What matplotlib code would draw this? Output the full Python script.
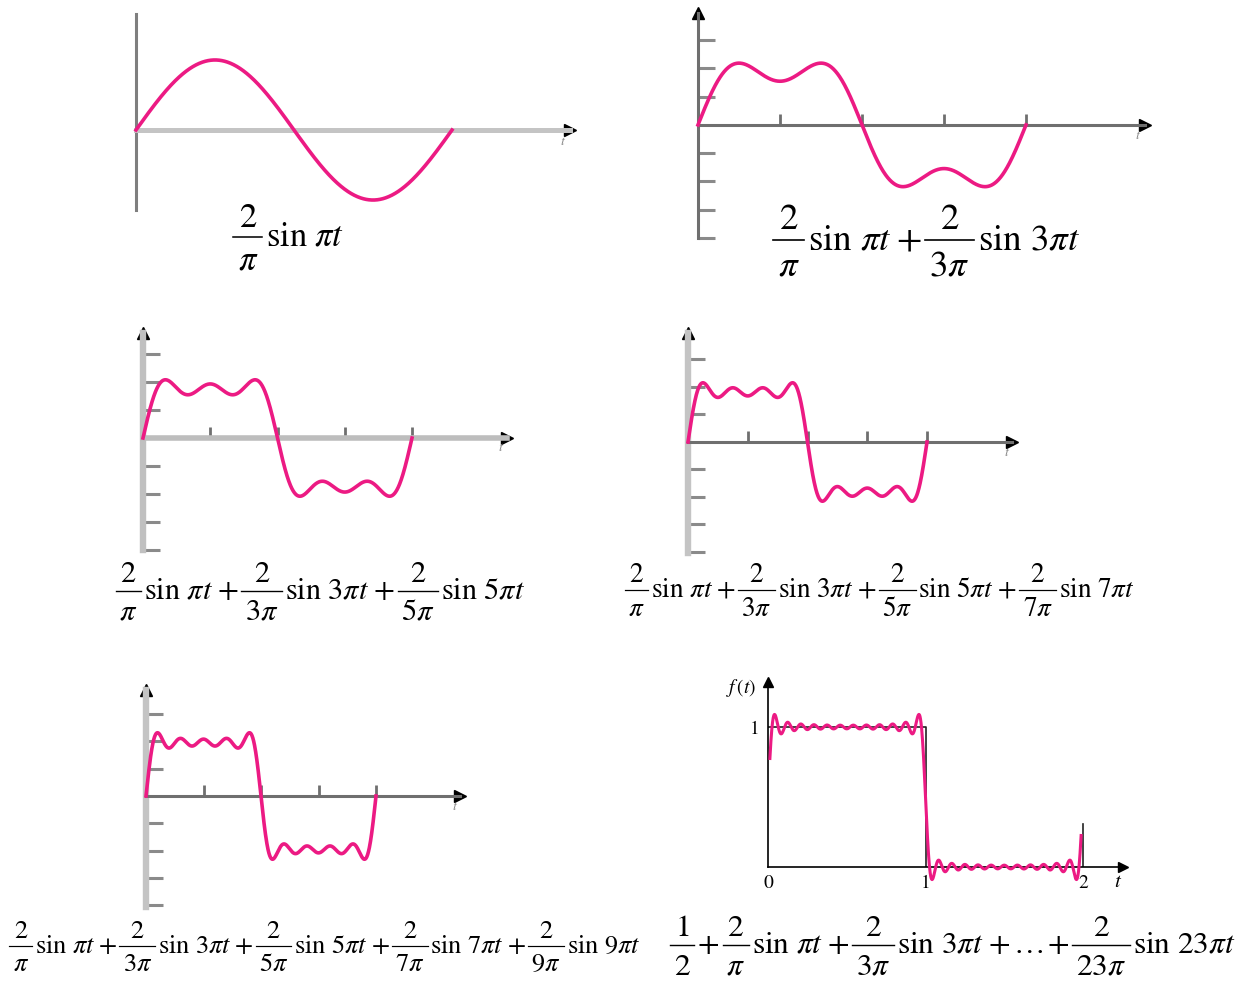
import numpy as np
import matplotlib.pyplot as plt
from matplotlib.font_manager import FontProperties
from matplotlib.lines import Line2D

plt.rcParams['mathtext.fontset'] = 'stix'
plt.rcParams['font.family'] = ['STIXGeneral', 'DejaVu Serif']

W, H = 1248, 983

# odd harmonics used in each partial sum (amplitude 2/(n*pi))
harmonics_1 = [1]
harmonics_2 = [1, 3]
harmonics_3 = [1, 3, 5]
harmonics_4 = [1, 3, 5, 7]
harmonics_5 = [1, 3, 5, 7, 9]
harmonics_6 = [1, 3, 5, 7, 9, 11, 13, 15, 17, 19, 21, 23]
dc_offsets = [0, 0, 0, 0, 0, 0.5]

# square wave f(t) drawn in the last panel
square_t = [0, 1, 1]
square_f = [1, 1, 0]
edge_t = [2, 2]
edge_f = [0, 0.31]

axis_ticks_t = [0.5, 1.0, 1.5, 2.0]
f_ticks = [0, 1, 2]

PINK = '#ec1a83'


def partial_sum(t, harmonics, offset):
    y = np.full_like(t, offset)
    for n in harmonics:
        y += 2 / (n * np.pi) * np.sin(n * np.pi * t)
    return y


def term(n):
    k = '' if n == 1 else str(n)
    return [('$2$', r'$%s\pi$' % k), r'$\mathrm{sin}\ %s\pi t$' % k]


def make_ax(fig, x0, y0, top, bottom, right, sx, sy):
    ax = fig.add_axes([x0 / W, 1 - bottom / H, (right - x0) / W, (bottom - top) / H])
    ax.set_xlim(0, (right - x0) / sx)
    ax.set_ylim((y0 - bottom) / sy, (y0 - top) / sy)
    ax.patch.set_visible(False)
    ax.spines['top'].set_visible(False)
    ax.spines['right'].set_visible(False)
    ax.spines['bottom'].set_position(('data', 0))
    return ax


def style_axes(ax, xcol, xlw, ycol, ylw):
    ax.spines['bottom'].set_color(xcol)
    ax.spines['bottom'].set_linewidth(xlw)
    ax.spines['left'].set_color(ycol)
    ax.spines['left'].set_linewidth(ylw)
    ax.plot(1, 0, '>', color='k', ms=8, transform=ax.get_yaxis_transform(), clip_on=False)
    ax.text(0.985, -0.1, '$t$', transform=ax.get_yaxis_transform(), fontsize=10,
            color='#8a8a8a', ha='center', va='center')


fig = plt.figure(figsize=(W / 100, H / 100), dpi=100)
renderer = fig.canvas.get_renderer()

# panel geometry in pixels: x0, y0, top, bottom, right, px per unit t, px per unit y, tick step px
panels = [
    (136, 130, 14, 210, 570, 158, 110, None),
    (698, 125, 13, 238, 1145, 164, 103, 28.3),
    (143, 438, 333, 550, 507, 134.5, 98, 28.0),
    (688, 442, 333, 553, 1012, 119.5, 100, 27.5),
    (146, 796, 690, 907, 460, 115, 107, 27.3),
]
harm_list = [harmonics_1, harmonics_2, harmonics_3, harmonics_4, harmonics_5]
axis_styles = [
    ('#c4c4c4', 3.6, '#7f7f7f', 2.2),
    ('#6f6f6f', 2.2, '#6f6f6f', 2.2),
    ('#bdbdbd', 4.0, '#c0c0c0', 4.6),
    ('#6f6f6f', 2.2, '#c4c4c4', 4.6),
    ('#6f6f6f', 2.2, '#c4c4c4', 4.6),
]

t = np.linspace(0, 2, 800)
for i, (x0, y0, top, bottom, right, sx, sy, step) in enumerate(panels):
    ax = make_ax(fig, x0, y0, top, bottom, right, sx, sy)
    style_axes(ax, *axis_styles[i])
    ax.plot(t, partial_sum(t, harm_list[i], dc_offsets[i]), color=PINK, lw=2.6,
            clip_on=False, zorder=5)
    if step is None:
        ax.set_xticks([])
        ax.set_yticks([])
    else:
        ax.plot(0, 1, '^', color='k', ms=8, transform=ax.get_xaxis_transform(), clip_on=False)
        ax.set_xticks(axis_ticks_t)
        ax.set_yticks([k * step / sy for k in range(-4, 4) if k != 0])
        ax.tick_params(axis='x', direction='in', length=8, width=2, color='#6f6f6f',
                       labelbottom=False)
        ax.tick_params(axis='y', direction='in', length=12, width=2.2, color='#8a8a8a',
                       labelleft=False)

# last panel: square wave with 12-term approximation
ax = make_ax(fig, 768, 867, 682, 867, 1123, 157.5, 140)
for s in ['bottom', 'left']:
    ax.spines[s].set_color('k')
    ax.spines[s].set_linewidth(1.2)
ax.plot(1, 0, '>', color='k', ms=7, transform=ax.get_yaxis_transform(), clip_on=False)
ax.plot(0, 1, '^', color='k', ms=7, transform=ax.get_xaxis_transform(), clip_on=False)
ax.plot(square_t, square_f, color='#222222', lw=1.2)
ax.plot(edge_t, edge_f, color='#222222', lw=1.2)
t6 = np.linspace(0.012, 1.988, 1500)
ax.plot(t6, partial_sum(t6, harmonics_6, dc_offsets[5]), color=PINK, lw=2.2,
        clip_on=False, zorder=5)
ax.set_xticks(f_ticks)
ax.set_xticklabels([str(v) for v in f_ticks])
ax.set_yticks([1])
ax.set_yticklabels(['1'])
ax.tick_params(length=0, labelsize=14, pad=6)
ax.text(2.22, -0.04, '$t$', fontsize=15, ha='center', va='top')
ax.text(-0.17, 1.28, '$f\\,(t)$', fontsize=14, ha='center', va='center')


# ---- formulas drawn as fractions + inline text ----
def text_w(s, fs):
    w, h, d = renderer.get_text_width_height_descent(s, FontProperties(size=fs), ismath=True)
    return w


def layout(tokens, fs):
    F = fs * 100 / 72
    items = []
    x = 0
    for tok in tokens:
        if isinstance(tok, tuple):
            bw = max(text_w(tok[0], fs), text_w(tok[1], fs)) + 0.24 * F
            items.append(('frac', x, bw, tok))
            x += bw + 0.1 * F
        elif tok == '+':
            w = text_w('$+$', fs)
            items.append(('text', x, w, '$+$'))
            x += w + 0.1 * F
        else:
            w = text_w(tok, fs)
            items.append(('text', x, w, tok))
            x += w + 0.12 * F
    return items, x - 0.1 * F


def fig_xy(x, y):
    return x / W, 1 - y / H


def draw_formula(tokens, cx, cy, target_w):
    _, w0 = layout(tokens, 20)
    fs = 20 * target_w / w0
    F = fs * 100 / 72
    items, total = layout(tokens, fs)
    left = cx - total / 2
    for kind, x, w, payload in items:
        if kind == 'text':
            fig.text(*fig_xy(left + x, cy + 0.25 * F), payload, fontsize=fs,
                     ha='left', va='baseline')
        else:
            xa, ya = fig_xy(left + x, cy)
            xb, _ = fig_xy(left + x + w, cy)
            fig.add_artist(Line2D([xa, xb], [ya, ya], color='k', lw=0.045 * F * 72 / 100,
                                  transform=fig.transFigure))
            mid = left + x + w / 2
            fig.text(*fig_xy(mid, cy - 0.3 * F), payload[0], fontsize=fs, ha='center', va='baseline')
            fig.text(*fig_xy(mid, cy + 0.95 * F), payload[1], fontsize=fs, ha='center', va='baseline')


def sum_tokens(hs):
    toks = []
    for j, n in enumerate(hs):
        if j:
            toks.append('+')
        toks += term(n)
    return toks


# formulas under each panel: center x, bar y, width in px
label_pos = [(289, 237, 112), (927, 240, 311), (321, 591, 412),
             (880, 590, 510), (325, 946, 630), (953, 945, 570)]
for i in range(5):
    draw_formula(sum_tokens(harm_list[i]), *label_pos[i])
last = [('$1$', '$2$'), '+'] + term(harmonics_6[0]) + ['+'] + term(harmonics_6[1]) \
    + ['+', r'$\ldots$', '+'] + term(harmonics_6[-1])
draw_formula(last, *label_pos[5])

fig.savefig('out.png', dpi=100)
